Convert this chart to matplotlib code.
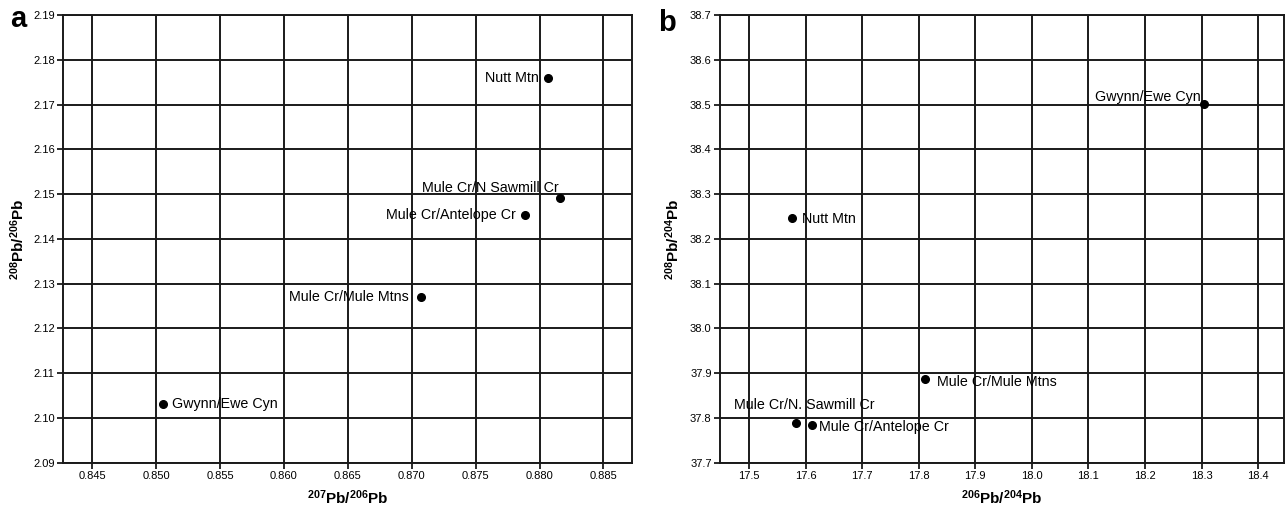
import matplotlib
matplotlib.use("Agg")
import matplotlib.pyplot as plt

plt.rcParams['font.family'] = ['Liberation Sans', 'DejaVu Sans']
plt.rcParams['mathtext.fontset'] = 'custom'
plt.rcParams['mathtext.rm'] = 'Liberation Sans'
plt.rcParams['mathtext.bf'] = 'Liberation Sans:bold'

# panel a: 207Pb/206Pb vs 208Pb/206Pb
names_a = ['Nutt Mtn', 'Mule Cr/N Sawmill Cr', 'Mule Cr/Antelope Cr',
           'Mule Cr/Mule Mtns', 'Gwynn/Ewe Cyn']
x_a = [0.8807, 0.8816, 0.8789, 0.8707, 0.8505]
y_a = [2.1759, 2.1491, 2.1453, 2.1271, 2.1032]
xticks_a = [0.845, 0.850, 0.855, 0.860, 0.865, 0.870, 0.875, 0.880, 0.885]
yticks_a = [2.09, 2.10, 2.11, 2.12, 2.13, 2.14, 2.15, 2.16, 2.17, 2.18, 2.19]

# panel b: 206Pb/204Pb vs 208Pb/204Pb
names_b = ['Gwynn/Ewe Cyn', 'Nutt Mtn', 'Mule Cr/Mule Mtns',
           'Mule Cr/N. Sawmill Cr', 'Mule Cr/Antelope Cr']
x_b = [18.304, 17.577, 17.811, 17.584, 17.612]
y_b = [38.501, 38.247, 37.887, 37.789, 37.784]
xticks_b = [17.5, 17.6, 17.7, 17.8, 17.9, 18.0, 18.1, 18.2, 18.3, 18.4]
yticks_b = [37.7, 37.8, 37.9, 38.0, 38.1, 38.2, 38.3, 38.4, 38.5, 38.6, 38.7]

# label offsets in pixels (dx, dy, ha)
offs_a = [(-10, 0, 'right'), (-1, 10, 'right'), (-10, 0, 'right'),
          (-12, 0, 'right'), (9, 0, 'left')]
offs_b = [(-3, 7, 'right'), (10, -1, 'left'), (12, -3, 'left'),
          (8, 18, 'center'), (7, -2, 'left')]

LC = '#1a1a1a'

fig = plt.figure(figsize=(12.87, 5.11), dpi=100)
ax_a = fig.add_axes([0.0490, 0.0945, 0.4419, 0.8761])
ax_b = fig.add_axes([0.5594, 0.0945, 0.4382, 0.8761])


def draw(ax, xs, ys, names, offs, xt, yt, xlim, xfmt, yfmt, xlabel, ylabel, ylx):
    ax.set_xlim(*xlim)
    ax.set_ylim(yt[0], yt[-1])
    ax.set_xticks(xt)
    ax.set_yticks(yt)
    ax.set_xticklabels([xfmt % v for v in xt])
    ax.set_yticklabels([yfmt % v for v in yt])
    ax.grid(True, color=LC, linewidth=1.4)
    ax.set_axisbelow(True)
    for s in ax.spines.values():
        s.set_color(LC)
        s.set_linewidth(1.4)
    ax.tick_params(direction='out', length=4, width=1.3, color=LC,
                   labelsize=8, pad=2)
    ax.plot(xs, ys, 'o', color='black', markersize=5.5, zorder=5)
    for x, y, n, (dx, dy, ha) in zip(xs, ys, names, offs):
        ax.annotate(n, (x, y), xytext=(dx, dy), textcoords='offset pixels',
                    ha=ha, va='center', fontsize=10.3, zorder=6)
    ax.set_xlabel(xlabel, fontsize=11, labelpad=5)
    ax.set_ylabel(ylabel, fontsize=11)
    ax.yaxis.set_label_coords(ylx, 0.5)


draw(ax_a, x_a, y_a, names_a, offs_a, xticks_a, yticks_a, (0.84271, 0.88722),
     '%.3f', '%.2f', r'$\mathbf{^{207}Pb/^{206}Pb}$',
     r'$\mathbf{^{208}Pb/^{206}Pb}$', -0.063)
draw(ax_b, x_b, y_b, names_b, offs_b, xticks_b, yticks_b, (17.4488, 18.4454),
     '%.1f', '%.1f', r'$\mathbf{^{206}Pb/^{204}Pb}$',
     r'$\mathbf{^{208}Pb/^{204}Pb}$', -0.067)

fig.text(10 / 1287, 1 - 27 / 511, 'a', fontsize=21, fontweight='bold', va='baseline')
fig.text(658 / 1287, 1 - 31 / 511, 'b', fontsize=21, fontweight='bold', va='baseline')

fig.savefig('out.png', dpi=100)
